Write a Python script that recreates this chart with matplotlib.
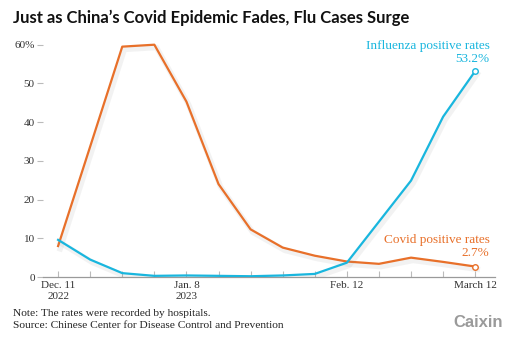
import matplotlib.pyplot as plt
import matplotlib.patheffects as pe
import numpy as np

# weekly positive rates (%), Dec. 11 2022 - March 12 2023
weeks = ['Dec. 11\n2022', 'Dec. 18', 'Dec. 25', 'Jan. 1', 'Jan. 8\n2023', 'Jan. 15', 'Jan. 22',
         'Jan. 29', 'Feb. 5', 'Feb. 12', 'Feb. 19', 'Feb. 26', 'March 5', 'March 12']
covid = [8.0, 33.7, 59.5, 60.0, 45.3, 24.0, 12.3, 7.6, 5.5, 4.0, 3.4, 5.0, 3.9, 2.7]
flu = [9.6, 4.5, 1.0, 0.3, 0.4, 0.3, 0.2, 0.4, 0.8, 3.7, 14.3, 24.9, 41.4, 53.2]
labeled_weeks = [0, 4, 9, 13]
yticks = [0, 10, 20, 30, 40, 50, 60]

ORANGE = '#e8702a'
CYAN = '#19b6de'
serif = 'Liberation Serif'

fig = plt.figure(figsize=(5.12, 3.48), dpi=100)
ax = fig.add_axes([0.084, 0.204, 0.883, 0.682])

x = np.arange(len(weeks))
shadow = [pe.SimpleLineShadow(offset=(1.5, -2), shadow_color='#888888', alpha=0.1, linewidth=4), pe.Normal()]
ax.plot(x, covid, color=ORANGE, lw=1.6, path_effects=shadow, zorder=3)
ax.plot(x, flu, color=CYAN, lw=1.6, path_effects=shadow, zorder=4)
ax.plot(x[-1], covid[-1], 'o', ms=4, mfc='white', mec=ORANGE, mew=1, zorder=5)
ax.plot(x[-1], flu[-1], 'o', ms=4, mfc='white', mec=CYAN, mew=1, zorder=5)

ax.set_xlim(-0.47, 13.62)
ax.set_ylim(0, 61.3)

for s in ['top', 'right', 'left']:
    ax.spines[s].set_visible(False)
ax.spines['bottom'].set_color('#9a9a9a')
ax.spines['bottom'].set_linewidth(0.9)

ax.set_yticks(yticks)
ax.set_yticklabels([f'{v}%' if v == 60 else str(v) for v in yticks])
ax.tick_params(axis='y', length=4.5, width=0.8, color='#bbbbbb', pad=1.5,
               labelsize=8, labelcolor='#333333')
for t in ax.get_yticklabels():
    t.set_fontfamily(serif)

ax.set_xticks(x, minor=True)
ax.set_xticks(labeled_weeks)
ax.set_xticklabels([weeks[i] for i in labeled_weeks], linespacing=1.2)
ax.tick_params(axis='x', which='both', direction='in', length=4, width=0.8, color='#bbbbbb')
ax.tick_params(axis='x', which='major', pad=3, labelsize=8, labelcolor='#333333')
for t in ax.get_xticklabels():
    t.set_fontfamily(serif)

ax.text(13.45, flu[-1] + 1.6, 'Influenza positive rates\n53.2%', color=CYAN, ha='right', va='bottom',
        fontsize=9.5, family=serif, linespacing=1.05)
ax.text(13.45, covid[-1] + 2.0, 'Covid positive rates\n2.7%', color=ORANGE, ha='right', va='bottom',
        fontsize=9.5, family=serif, linespacing=1.05)

fig.text(0.025, 0.948, 'Just as China\u2019s Covid Epidemic Fades, Flu Cases Surge', fontsize=12,
         fontweight='bold', family='Lato', color='#111111', va='center')
fig.text(0.025, 0.082, 'Note: The rates were recorded by hospitals.\nSource: Chinese Center for Disease Control and Prevention',
         fontsize=8.2, family=serif, color='#222222', va='center', linespacing=1.3)
fig.text(0.983, 0.073, 'Caixin', fontsize=12, fontweight='bold', family='Liberation Sans',
         color='#9a9a9a', ha='right', va='center')

fig.savefig('out.png', dpi=100, facecolor='white')
